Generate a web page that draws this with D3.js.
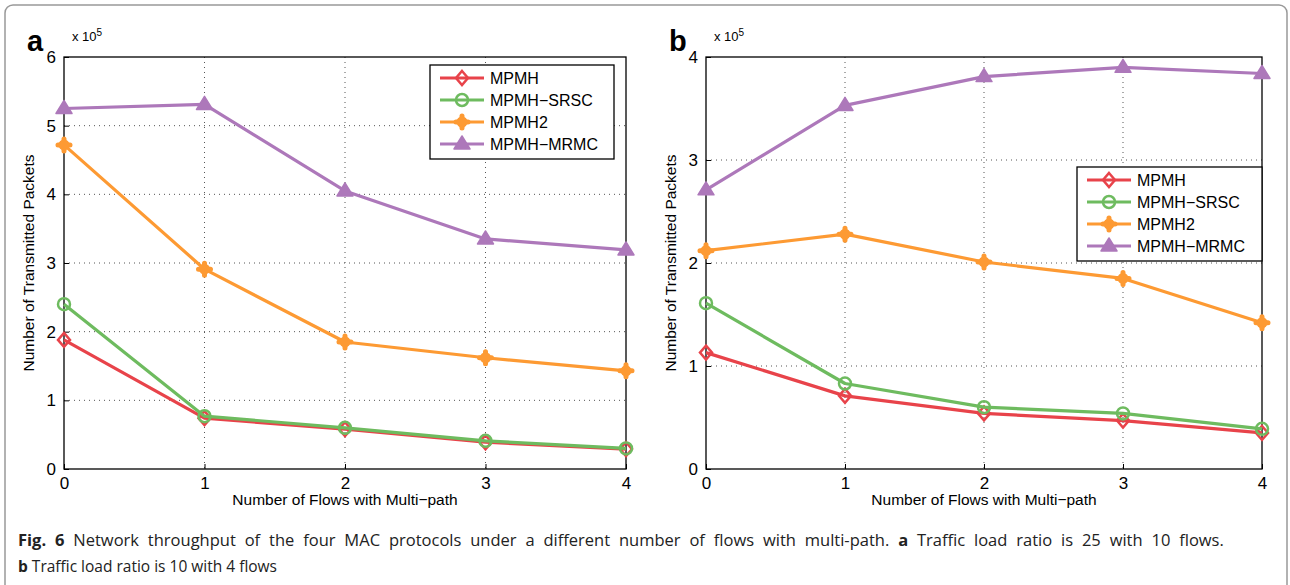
<!DOCTYPE html>
<html>
<head>
<meta charset="utf-8">
<script src="https://cdn.jsdelivr.net/npm/d3@7"></script>
<style>
  body { margin: 0; background: #fff; }
  svg { display: block; }
</style>
</head>
<body>
<div id="app"></div>
<script>
// Data (values in units of 10^5 packets)
const flows = [0, 1, 2, 3, 4];
const seriesNames = ["MPMH", "MPMH\u2212SRSC", "MPMH2", "MPMH\u2212MRMC"];
const colors = ["#e8434a", "#6ebb5f", "#fd9a33", "#ad78ba"];
const markers = ["diamond", "circle", "plus", "triangle"];

// panel a
const aMPMH = [1.88, 0.74, 0.58, 0.39, 0.29];
const aSRSC = [2.40, 0.77, 0.60, 0.41, 0.30];
const aMPMH2 = [4.72, 2.91, 1.85, 1.62, 1.43];
const aMRMC = [5.25, 5.31, 4.05, 3.35, 3.19];
const aYTicks = [0, 1, 2, 3, 4, 5, 6];

// panel b
const bMPMH = [1.13, 0.71, 0.54, 0.47, 0.35];
const bSRSC = [1.61, 0.83, 0.60, 0.54, 0.39];
const bMPMH2 = [2.12, 2.28, 2.01, 1.85, 1.42];
const bMRMC = [2.71, 3.53, 3.81, 3.90, 3.84];
const bYTicks = [0, 1, 2, 3, 4];

const width = 1290;
const height = 585;

const svg = d3.select("#app").append("svg")
  .attr("width", width)
  .attr("height", height);

// figure frame
svg.append("rect")
  .attr("x", 5).attr("y", 5)
  .attr("width", 1282).attr("height", 600)
  .attr("rx", 8)
  .attr("fill", "none")
  .attr("stroke", "#999")
  .attr("stroke-width", 1.5);

const font = "'Liberation Sans', Arial, sans-serif";

function drawMarker(g, type, x, y, color) {
  const s = 6;
  if (type === "diamond") {
    g.append("path")
      .attr("d", `M${x},${y - s - 1}L${x + s},${y}L${x},${y + s + 1}L${x - s},${y}Z`)
      .attr("fill", "none").attr("stroke", color).attr("stroke-width", 2.5);
  } else if (type === "circle") {
    g.append("circle").attr("cx", x).attr("cy", y).attr("r", s)
      .attr("fill", "none").attr("stroke", color).attr("stroke-width", 2.5);
  } else if (type === "plus") {
    g.append("path")
      .attr("d", `M${x - s},${y}L${x + s},${y}M${x},${y - s}L${x},${y + s}`)
      .attr("stroke", color).attr("stroke-width", 5).attr("stroke-linecap", "round");
    g.append("circle").attr("cx", x).attr("cy", y).attr("r", 5.5).attr("fill", color);
  } else if (type === "triangle") {
    g.append("path")
      .attr("d", `M${x},${y - s - 2}L${x + s + 2},${y + s - 1}L${x - s - 2},${y + s - 1}Z`)
      .attr("fill", color).attr("stroke", color).attr("stroke-width", 1.5)
      .attr("stroke-linejoin", "round");
  }
}

function drawPanel(opts) {
  const { left, right, top, bottom, yMax, yTicks, series, letter, legendBox } = opts;

  const x = d3.scaleLinear().domain([0, 4]).range([left, right]);
  const y = d3.scaleLinear().domain([0, yMax]).range([bottom, top]);
  const g = svg.append("g");

  // grid
  g.selectAll(".gx").data(flows.slice(1, -1)).enter().append("line")
    .attr("x1", (d) => x(d)).attr("x2", (d) => x(d))
    .attr("y1", top).attr("y2", bottom)
    .attr("stroke", "#555").attr("stroke-width", 1).attr("stroke-dasharray", "1,4");
  g.selectAll(".gy").data(yTicks.slice(1, -1)).enter().append("line")
    .attr("x1", left).attr("x2", right)
    .attr("y1", (d) => y(d)).attr("y2", (d) => y(d))
    .attr("stroke", "#555").attr("stroke-width", 1).attr("stroke-dasharray", "1,4");

  // axes
  const xAxis = d3.axisBottom(x).tickValues(flows).tickFormat(d3.format("d")).tickSize(-5).tickPadding(8);
  const yAxis = d3.axisLeft(y).tickValues(yTicks).tickFormat(d3.format("d")).tickSize(-5).tickPadding(8);
  const gx = g.append("g").attr("transform", `translate(0,${bottom})`).call(xAxis);
  const gy = g.append("g").attr("transform", `translate(${left},0)`).call(yAxis);
  [gx, gy].forEach((a) => {
    a.select(".domain").remove();
    a.selectAll("line").attr("stroke", "#000");
    a.selectAll("text").attr("font-family", font).attr("font-size", 17).attr("fill", "#000");
  });

  // box
  g.append("rect")
    .attr("x", left).attr("y", top)
    .attr("width", right - left).attr("height", bottom - top)
    .attr("fill", "none").attr("stroke", "#000").attr("stroke-width", 1.3);

  // series
  const line = d3.line().x((d, i) => x(flows[i])).y((d) => y(d));
  series.forEach((vals, k) => {
    g.append("path").datum(vals)
      .attr("d", line)
      .attr("fill", "none")
      .attr("stroke", colors[k])
      .attr("stroke-width", 3.2)
      .attr("stroke-linejoin", "round");
    vals.forEach((v, i) => drawMarker(g, markers[k], x(flows[i]), y(v), colors[k]));
  });

  // legend
  const lg = g.append("g");
  lg.append("rect")
    .attr("x", legendBox.x).attr("y", legendBox.y)
    .attr("width", legendBox.w).attr("height", legendBox.h)
    .attr("fill", "#fff").attr("stroke", "#000").attr("stroke-width", 1.3);
  seriesNames.forEach((name, k) => {
    const ly = legendBox.y + 13 + k * 22;
    lg.append("line")
      .attr("x1", legendBox.x + 10).attr("x2", legendBox.x + 54)
      .attr("y1", ly).attr("y2", ly)
      .attr("stroke", colors[k]).attr("stroke-width", 3.2);
    drawMarker(lg, markers[k], legendBox.x + 32, ly, colors[k]);
    lg.append("text")
      .attr("x", legendBox.x + 60).attr("y", ly + 6)
      .attr("font-family", font).attr("font-size", 16)
      .text(name);
  });

  // labels
  g.append("text")
    .attr("x", (left + right) / 2).attr("y", bottom + 36)
    .attr("text-anchor", "middle")
    .attr("font-family", font).attr("font-size", 15.5)
    .text("Number of Flows with Multi\u2212path");
  g.append("text")
    .attr("transform", `translate(${left - 30},${(top + bottom) / 2}) rotate(-90)`)
    .attr("text-anchor", "middle")
    .attr("font-family", font).attr("font-size", 15.5)
    .text("Number of Transmitted Packets");
  const ex = g.append("text")
    .attr("x", left + 8).attr("y", top - 16)
    .attr("font-family", font).attr("font-size", 13);
  ex.append("tspan").text("x 10");
  ex.append("tspan").attr("dy", -5).attr("font-size", 10).text("5");
  g.append("text")
    .attr("x", left - 37).attr("y", top - 6)
    .attr("font-family", font)
    .attr("font-weight", "bold").attr("font-size", 29)
    .text(letter);
}

drawPanel({
  left: 64, right: 626, top: 57, bottom: 469,
  yMax: 6, yTicks: aYTicks,
  series: [aMPMH, aSRSC, aMPMH2, aMRMC],
  letter: "a",
  legendBox: { x: 430, y: 65, w: 184, h: 94 }
});

drawPanel({
  left: 706, right: 1262, top: 57, bottom: 469,
  yMax: 4, yTicks: bYTicks,
  series: [bMPMH, bSRSC, bMPMH2, bMRMC],
  letter: "b",
  legendBox: { x: 1077, y: 167, w: 185, h: 94 }
});

// caption (first line is justified in the reference)
const capFont = "'Open Sans', 'Noto Sans', sans-serif";
const cap1 = svg.append("text")
  .attr("x", 18).attr("y", 546)
  .attr("font-family", capFont).attr("font-size", 16.5).attr("fill", "#222");
cap1.append("tspan").attr("font-weight", "bold").text("Fig. 6");
cap1.append("tspan").text(" Network throughput of the four MAC protocols under a different number of flows with multi-path. ");
cap1.append("tspan").attr("font-weight", "bold").text("a");
cap1.append("tspan").text(" Traffic load ratio is 25 with 10 flows.");

const targetEnd = 1233;
const natural = cap1.node().getComputedTextLength();
const gaps = 27;
cap1.attr("word-spacing", Math.max(0, (targetEnd - 18 - natural) / gaps));

const cap2 = svg.append("text")
  .attr("x", 18).attr("y", 572)
  .attr("font-family", capFont).attr("font-size", 15.5).attr("fill", "#222");
cap2.append("tspan").attr("font-weight", "bold").text("b");
cap2.append("tspan").text(" Traffic load ratio is 10 with 4 flows");
</script>
</body>
</html>
